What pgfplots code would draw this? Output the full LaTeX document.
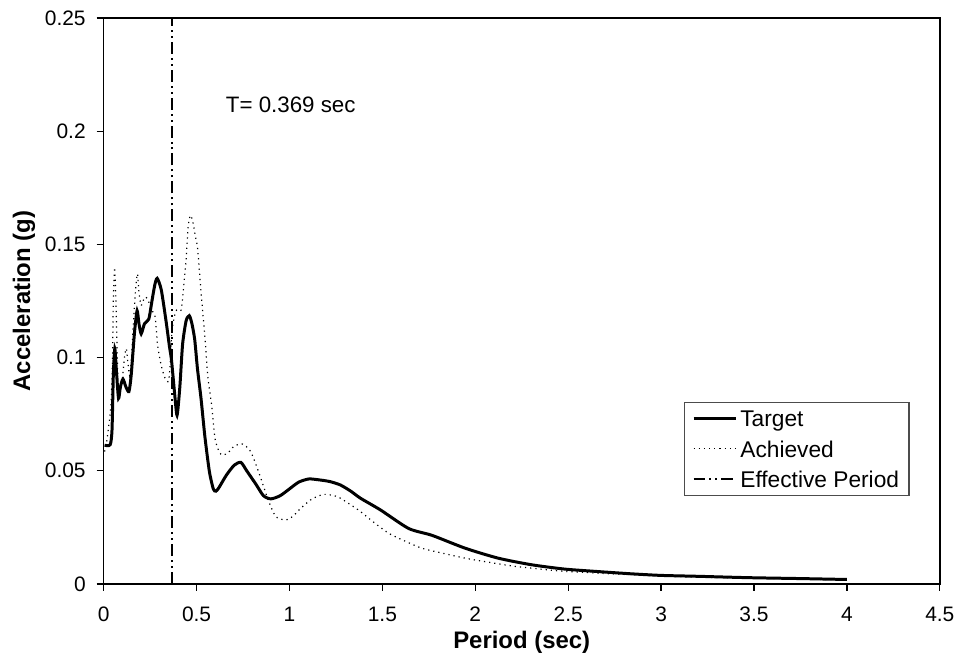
\documentclass[border=0pt]{standalone}
\usepackage{pgfplots}
\pgfplotsset{compat=1.18}
\usepackage{fontspec}
\setmainfont{Liberation Sans}
\begin{document}
\begin{tikzpicture}
\begin{axis}[
  scale only axis,
  width=419.5pt, height=284pt,
  xmin=0, xmax=4.5, ymin=0, ymax=0.25,
  xtick={0,0.5,...,4.5},
  ytick={0,0.05,0.1,0.15,0.2,0.25},
  scaled y ticks=false, scaled x ticks=false,
  yticklabel style={/pgf/number format/fixed,/pgf/number format/precision=2, xshift=-2pt},
  xticklabel style={/pgf/number format/fixed,/pgf/number format/precision=1, yshift=-4.5pt},
  /pgf/number format/assume math mode=true,
  tick align=outside, tick pos=left,
  major tick length=3.5pt,
  axis line style={line width=0.8pt},
  every tick/.style={black, line width=0.6pt},
  ticklabel style={font=\fontsize{10.5}{12}\selectfont},
  xlabel={\textbf{Period (sec)}},
  ylabel={\textbf{Acceleration (g)}},
  label style={font=\fontsize{12}{14}\selectfont},
  xlabel style={yshift=2pt},
  ylabel style={yshift=-2pt},
  legend style={at={(0.694,0.322)}, anchor=north west, draw=black!70, line width=0.6pt,
    font=\fontsize{11.4}{13}\selectfont, row sep=4.75pt, inner xsep=3.75pt, inner ysep=2.8pt,
    nodes={inner xsep=1.25pt, inner ysep=1pt, text height=8.5pt, text depth=0pt}},
  legend cell align=left,
  legend image code/.code={\draw[#1] (0,0) -- (21.5pt,0);},
  clip=false,
]
\addplot[black, line width=1.5pt, smooth, tension=0.4] coordinates {
(0.005,0.0613) (0.035,0.0615) (0.045,0.068) (0.052,0.092) (0.06,0.104) (0.068,0.095) (0.08,0.082)
(0.09,0.087) (0.104,0.0905) (0.12,0.087) (0.136,0.085) (0.148,0.092) (0.166,0.111) (0.18,0.1207)
(0.19,0.115) (0.202,0.1105) (0.22,0.115) (0.243,0.117) (0.26,0.125) (0.275,0.132) (0.288,0.135)
(0.31,0.13) (0.336,0.116) (0.354,0.105) (0.365,0.099) (0.381,0.085) (0.395,0.0745) (0.41,0.087)
(0.425,0.106) (0.444,0.1163) (0.461,0.1185) (0.475,0.115) (0.49,0.108) (0.505,0.095) (0.524,0.082)
(0.545,0.065) (0.569,0.0497) (0.59,0.042) (0.604,0.041) (0.62,0.0425) (0.66,0.048) (0.703,0.0525)
(0.739,0.0537) (0.77,0.05) (0.82,0.044) (0.86,0.039) (0.9,0.0376) (0.95,0.039) (1.0,0.042)
(1.05,0.045) (1.105,0.0464) (1.168,0.0459) (1.22,0.0452) (1.275,0.0437) (1.33,0.041) (1.382,0.0379)
(1.49,0.0327) (1.642,0.0245) (1.767,0.0215) (1.946,0.0158) (2.124,0.0114) (2.303,0.0085)
(2.48,0.0066) (2.66,0.0055) (2.84,0.0045) (3.0,0.0038) (3.2,0.0034) (3.47,0.0028) (3.75,0.0024) (4.0,0.002)
};
\addlegendentry{Target}
\addplot[black, line width=0.6pt, dotted, smooth, tension=0.4] coordinates {
(0.005,0.0585) (0.015,0.062) (0.023,0.067) (0.035,0.075) (0.041,0.082) (0.048,0.1) (0.052,0.125)
(0.059,0.1398) (0.066,0.125) (0.072,0.105) (0.078,0.086) (0.086,0.083) (0.1,0.09) (0.112,0.1)
(0.122,0.104) (0.13,0.098) (0.14,0.092) (0.15,0.1) (0.16,0.115) (0.172,0.13) (0.182,0.137)
(0.19,0.129) (0.202,0.123) (0.22,0.1266) (0.236,0.126) (0.258,0.121) (0.277,0.118) (0.291,0.105)
(0.31,0.0965) (0.33,0.091) (0.349,0.0895) (0.358,0.097) (0.367,0.111) (0.38,0.118) (0.393,0.121)
(0.417,0.121) (0.431,0.1317) (0.444,0.1435) (0.455,0.158) (0.467,0.1628) (0.48,0.16) (0.495,0.153)
(0.506,0.148) (0.524,0.129) (0.547,0.107) (0.56,0.092) (0.581,0.079) (0.599,0.0643) (0.622,0.0584)
(0.64,0.0569) (0.67,0.058) (0.703,0.0609) (0.747,0.0618) (0.792,0.0584) (0.846,0.0467) (0.882,0.0379)
(0.926,0.0298) (0.98,0.0283) (1.02,0.03) (1.06,0.0334) (1.12,0.0375) (1.186,0.0396) (1.257,0.0386)
(1.32,0.0355) (1.382,0.032) (1.45,0.0275) (1.534,0.0224) (1.62,0.019) (1.713,0.0158) (1.83,0.0135)
(1.946,0.0114) (2.08,0.0095) (2.214,0.0078) (2.35,0.0066) (2.48,0.0056) (2.66,0.0048) (2.84,0.0041)
(3.0,0.0036) (3.2,0.003) (3.5,0.0026) (3.75,0.0022) (4.0,0.0018)
};
\addlegendentry{Achieved}
\addplot[black, line width=1pt, dash pattern=on 6pt off 2pt on 1pt off 2pt on 1pt off 2pt] coordinates {
(0.369,0) (0.369,0.25)
};
\addlegendentry{Effective Period}
\node[anchor=west, font=\fontsize{11.2}{13}\selectfont] at (axis cs:0.62,0.2117) {T= 0.369 sec};
\end{axis}
\path (current axis.south west) ++(-52pt,-34.5pt) rectangle ++(480.5pt,327.5pt);
\end{tikzpicture}
\end{document}
